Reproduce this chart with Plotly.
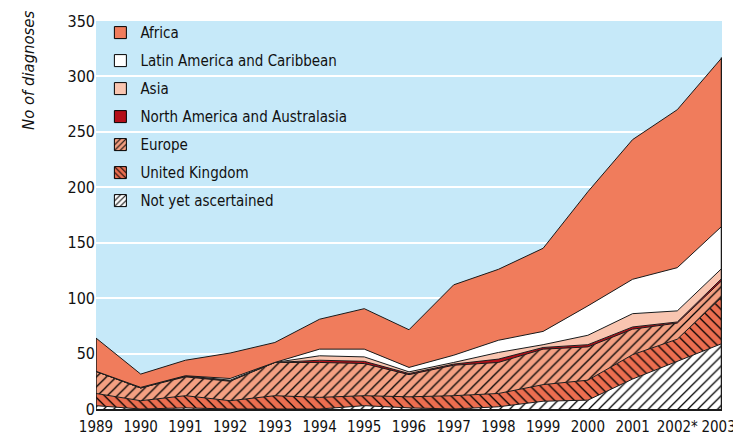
import plotly.graph_objects as go

years = list(range(1989, 2004))
year_labels = ["1989", "1990", "1991", "1992", "1993", "1994", "1995", "1996",
               "1997", "1998", "1999", "2000", "2001", "2002*", "2003*"]

not_yet = [3, 0, 1, 0, 0, 0, 3, 1, 0, 2, 7, 8, 27, 43, 59]
united_kingdom = [11, 7.5, 11, 7.5, 12, 10.5, 9, 10, 12, 12, 15, 18, 22, 20, 42]
europe = [20, 11.5, 17, 17.5, 30, 31.5, 29, 20, 27.5, 28, 32, 30, 23, 14.5, 15]
north_america = [0, 0, 1, 0.5, 0, 2, 2, 1, 1, 3, 1.5, 2, 2, 1, 2]
asia = [0, 0, 0, 0.5, 0, 4, 4, 1.5, 1.5, 6, 2.5, 8.5, 12, 10, 9]
latin_america = [0, 0.5, 0, 1.5, 0, 6, 7, 4, 6.5, 11, 12, 26.5, 31, 39, 38]
africa = [30, 12, 14, 23, 18, 27, 36.5, 34, 63.5, 64, 75, 103, 126, 142.5, 152]

series = [
    ("Not yet ascertained", not_yet, "#ffffff", "/"),
    ("United Kingdom", united_kingdom, "#ec6e50", "\\"),
    ("Europe", europe, "#f4a082", "/"),
    ("North America and Australasia", north_america, "#b40f19", ""),
    ("Asia", asia, "#f9c5b0", ""),
    ("Latin America and Caribbean", latin_america, "#ffffff", ""),
    ("Africa", africa, "#f07c5c", ""),
]

FONT = "Liberation Sans Narrow, DejaVu Sans Condensed, Arial Narrow, sans-serif"

fig = go.Figure()
n = len(series)
for i, (name, vals, col, pat) in enumerate(series):
    kw = {}
    if pat:
        kw["fillpattern"] = dict(shape=pat, fgcolor="#000000", bgcolor=col,
                                 size=7, solidity=0.18, fillmode="replace")
    fig.add_trace(go.Scatter(
        x=years, y=vals, name=name, stackgroup="one", mode="lines",
        line=dict(color="#1a1a1a", width=1), fillcolor=col,
        showlegend=False, hoverinfo="skip", **kw))
    mk = dict(color=col, line=dict(color="#000000", width=1))
    if pat:
        mk["pattern"] = dict(shape=pat, fgcolor="#000000", bgcolor=col,
                             size=5, solidity=0.25, fillmode="replace")
    fig.add_trace(go.Bar(x=[None], y=[None], name=name, marker=mk,
                         legendgroup=name, legendrank=n - i, showlegend=True))

totals = [sum(v) for v in zip(*[s[1] for s in series])]
fig.add_shape(type="line", x0=years[0], x1=years[0], y0=0, y1=totals[0],
              line=dict(color="#1a1a1a", width=1.5))
fig.add_shape(type="line", x0=years[-1], x1=years[-1], y0=0, y1=totals[-1],
              line=dict(color="#1a1a1a", width=2.5))

fig.add_annotation(text="No of diagnoses", textangle=-90, xref="paper", yref="paper",
                   x=-0.107, y=1.03, xanchor="center", yanchor="top", showarrow=False,
                   font=dict(family=FONT, size=16.5, color="#111111", style="italic"))

# page body has an 8px margin; the plot area is placed to match the window
fig.update_layout(
    width=733, height=434,
    margin=dict(l=88, r=19, t=13, b=33, autoexpand=False),
    paper_bgcolor="#ffffff", plot_bgcolor="#c6e9f9",
    font=dict(family=FONT, size=16, color="#111111"),
    showlegend=True,
    legend=dict(x=0.007, y=1.012, xanchor="left", yanchor="top",
                bgcolor="rgba(0,0,0,0)", traceorder="grouped",
                tracegroupgap=5.5, font=dict(size=15, family=FONT)),
    xaxis=dict(range=[years[0], years[-1]], tickvals=years, ticktext=year_labels,
               showgrid=False, zeroline=False, showline=True, linecolor="#1a1a1a",
               linewidth=2, ticks="", tickfont=dict(size=15), automargin=False,
               ticklabeloverflow="allow", ticklabelstandoff=3, tickangle=0),
    yaxis=dict(range=[0, 350], dtick=50, showgrid=True, gridcolor="#ffffff",
               gridwidth=2, zeroline=False, showline=False, ticks="",
               tickfont=dict(size=16), automargin=False),
)

fig.write_html("out.html")
